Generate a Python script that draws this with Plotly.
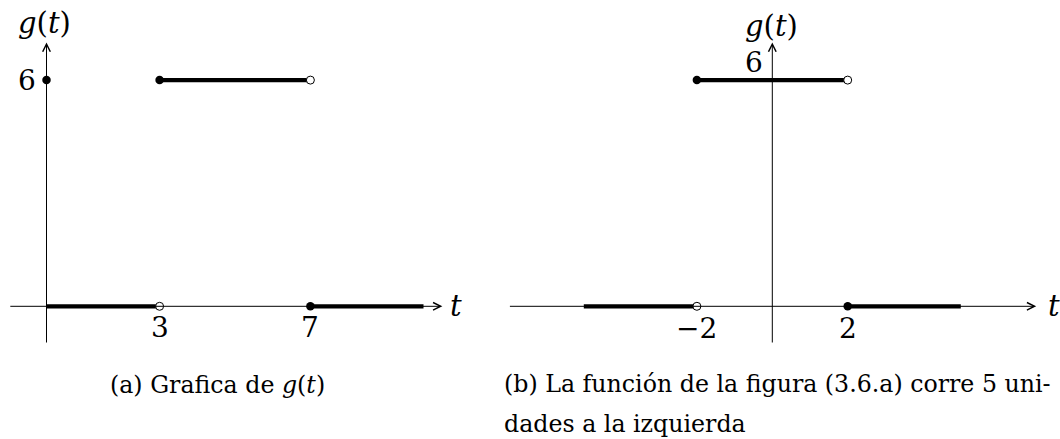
import plotly.graph_objects as go

# ---- panel (a): g(t) ----
a_seg_start = [0, 3, 7]
a_seg_end = [3, 7, 10]
a_seg_value = [0, 6, 0]
a_closed_t = [0, 3, 7]
a_closed_g = [6, 6, 0]
a_open_t = [3, 7]
a_open_g = [0, 6]
a_xticks = [3, 7]
a_xtick_text = ["3", "7"]
a_axis_t = [-1, 10.5]
a_axis_g = [-1, 7]

# ---- panel (b): g(t) shifted five units to the left ----
b_seg_start = [-5, -2, 2]
b_seg_end = [-2, 2, 5]
b_seg_value = [0, 6, 0]
b_closed_t = [-2, 2]
b_closed_g = [6, 0]
b_open_t = [-2, 2]
b_open_g = [0, 6]
b_xticks = [-2, 2]
b_xtick_text = ["\u22122", "2"]
b_axis_t = [-7, 7]
b_axis_g = [-1, 7]

y_tick = 6
y_tick_text = "6"

caption_a = "(a) Grafica de <i>g</i>(<i>t</i>)"
caption_b1 = "(b) La función de la figura (3.6.a) corre 5 uni-"
caption_b2 = "dades a la izquierda"

W, H = 1060, 439
UNIT = 37.7          # pixels per data unit
Y0_PX = 306.3        # pixel row of g = 0
SPLIT = 500          # pixel column dividing the two panels
A_ORIGIN_PX = 46.5
B_ORIGIN_PX = 772.3

FONT = "'DejaVu Serif', serif"
TXT = 28
NAME = 29

fig = go.Figure()

def add_panel(xa, ya, seg_s, seg_e, seg_v, ct, cg, ot, og):
    for s, e, v in zip(seg_s, seg_e, seg_v):
        fig.add_trace(go.Scatter(x=[s, e], y=[v, v], mode="lines",
                                 line=dict(color="black", width=4.2),
                                 xaxis=xa, yaxis=ya, hoverinfo="skip"))
    fig.add_trace(go.Scatter(x=ct, y=cg, mode="markers",
                             marker=dict(size=8.5, color="black"),
                             xaxis=xa, yaxis=ya, hoverinfo="skip"))
    fig.add_trace(go.Scatter(x=ot, y=og, mode="markers",
                             marker=dict(size=8, color="white",
                                         line=dict(color="black", width=1)),
                             xaxis=xa, yaxis=ya, hoverinfo="skip"))

add_panel("x", "y", a_seg_start, a_seg_end, a_seg_value,
          a_closed_t, a_closed_g, a_open_t, a_open_g)
add_panel("x2", "y2", b_seg_start, b_seg_end, b_seg_value,
          b_closed_t, b_closed_g, b_open_t, b_open_g)

ann = []

def arrow(xref, yref, x0, y0, x1, y1):
    ann.append(dict(x=x1, y=y1, ax=x0, ay=y0, xref=xref, yref=yref,
                    axref=xref, ayref=yref, text="", showarrow=True,
                    arrowhead=5, arrowsize=1.5, arrowwidth=1,
                    arrowcolor="black"))

def label(xref, yref, x, y, text, dx=0, dy=0, size=TXT):
    ann.append(dict(x=x, y=y, xref=xref, yref=yref, text=text,
                    showarrow=False, xshift=dx, yshift=dy,
                    xanchor="center", yanchor="middle",
                    font=dict(family=FONT, size=size, color="black")))

# axes with arrow tips
arrow("x", "y", a_axis_t[0], 0, a_axis_t[1], 0)
arrow("x", "y", 0, a_axis_g[0], 0, a_axis_g[1])
arrow("x2", "y2", b_axis_t[0], 0, b_axis_t[1], 0)
arrow("x2", "y2", 0, b_axis_g[0], 0, b_axis_g[1])

# tick labels
for v, t in zip(a_xticks, a_xtick_text):
    label("x", "y", v, 0, t, dy=-21)
for v, t in zip(b_xticks, b_xtick_text):
    label("x2", "y2", v, 0, t, dy=-22)
label("x", "y", 0, y_tick, y_tick_text, dx=-20)
label("x2", "y2", 0, y_tick, y_tick_text, dx=-18, dy=18)

# axis names
label("x", "y", 0, a_axis_g[1], "<i>g</i>(<i>t</i>)", dx=-2, dy=19, size=NAME)
label("x2", "y2", 0, b_axis_g[1], "<i>g</i>(<i>t</i>)", dx=-1, dy=16, size=NAME)
label("x", "y", a_axis_t[1], 0, "<i>t</i>", dx=14, dy=0, size=NAME)
label("x2", "y2", b_axis_t[1], 0, "<i>t</i>", dx=18, dy=0, size=NAME)

# captions
CAP = 23.7
ann.append(dict(x=108 / W, y=1 - 385 / H, xref="paper", yref="paper",
                text=caption_a, showarrow=False, xanchor="left",
                yanchor="middle", font=dict(family=FONT, size=CAP, color="black")))
ann.append(dict(x=502 / W, y=1 - 384 / H, xref="paper", yref="paper",
                text=caption_b1, showarrow=False, xanchor="left",
                yanchor="middle", font=dict(family=FONT, size=CAP, color="black")))
ann.append(dict(x=502 / W, y=1 - 424 / H, xref="paper", yref="paper",
                text=caption_b2, showarrow=False, xanchor="left",
                yanchor="middle", font=dict(family=FONT, size=CAP, color="black")))

def xr(origin):
    lo = SPLIT if origin > SPLIT else 0
    hi = W if origin > SPLIT else SPLIT
    return [(lo - origin) / UNIT, (hi - origin) / UNIT]

yr = [(Y0_PX - H) / UNIT, Y0_PX / UNIT]
hidden = dict(visible=False, showgrid=False, zeroline=False, fixedrange=True)

fig.update_layout(
    width=W, height=H,
    margin=dict(l=0, r=0, t=0, b=0),
    paper_bgcolor="white", plot_bgcolor="white",
    showlegend=False,
    xaxis=dict(domain=[0, SPLIT / W], range=xr(A_ORIGIN_PX), **hidden),
    xaxis2=dict(domain=[SPLIT / W, 1], range=xr(B_ORIGIN_PX), **hidden),
    yaxis=dict(domain=[0, 1], range=yr, anchor="x", **hidden),
    yaxis2=dict(domain=[0, 1], range=yr, anchor="x2", **hidden),
    annotations=ann,
)

fig.write_html("out.html")
